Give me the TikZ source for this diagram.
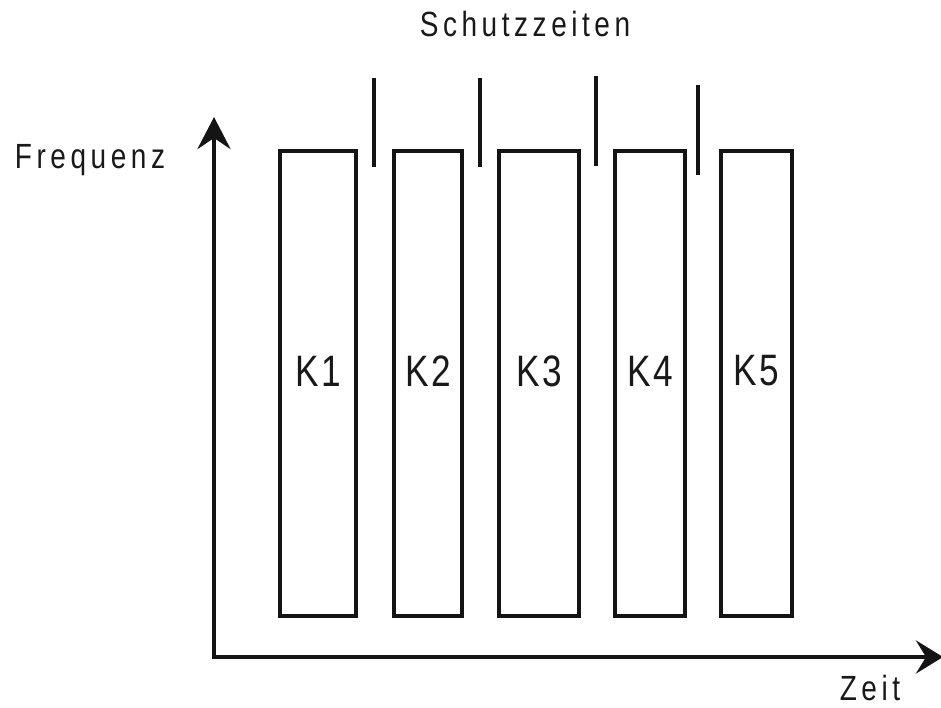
\documentclass[tikz,border=0pt]{standalone}
\usepackage{fontspec}
\usetikzlibrary{arrows.meta}
\newfontfamily\labfont[FakeStretch=0.8,LetterSpace=13]{Liberation Sans}
\newfontfamily\kfont[FakeStretch=0.8,LetterSpace=6]{Liberation Sans}
\begin{document}
\begin{tikzpicture}[x=1pt,y=-1pt,
  axisline/.style={line width=4.5pt,line join=miter,draw=black!92},
  kbox/.style={draw=black!92,line width=4pt,rectangle,inner sep=0pt,minimum height=465pt},
  klab/.style={font=\kfont\fontsize{44}{48}\selectfont,inner sep=0pt,text=black!90},
  axlab/.style={font=\labfont\fontsize{35}{40}\selectfont,inner sep=0pt,anchor=base,text=black!90},
  guard/.style={line width=4.5pt,draw=black!92}]
\fill[white] (0,0) rectangle (941,707);
\useasboundingbox (0,0) rectangle (941,707);
% axes
\coordinate (o) at (214,657);
\coordinate (ytip) at (214,117);
\coordinate (xtip) at (943,657);
\draw[axisline,{Stealth[length=32pt,width=33pt,inset=11pt]}-{Stealth[length=27pt,width=33pt,inset=10pt]}] (ytip) -- (o) -- (xtip);
% channel boxes
\node[kbox,minimum width=76pt] (k1) at (318,383) {};
\node[kbox,minimum width=68pt] (k2) at (428,383) {};
\node[kbox,minimum width=80pt] (k3) at (539,383) {};
\node[kbox,minimum width=70pt] (k4) at (650,383) {};
\node[kbox,minimum width=71pt] (k5) at (756.5,383) {};
\node[klab] (l1) at ([yshift=12pt]k1.center) {K1};
\node[klab] (l2) at ([yshift=12pt]k2.center) {K2};
\node[klab] (l3) at ([yshift=12pt]k3.center) {K3};
\node[klab] (l4) at ([yshift=12pt]k4.center) {K4};
\node[klab] (l5) at ([yshift=12pt]k5.center) {K5};
% guard time bars
\draw[guard] (374,78) -- (374,167);
\draw[guard] (480,78) -- (480,167);
\draw[guard] (596,76) -- (596,166);
\draw[guard] (698,85) -- (698,175);
% labels
\node[axlab] (sz) at (525,36.5) {Schutzzeiten};
\node[axlab] (fq) at (90,168) {Frequenz};
\node[axlab] (zt) at (870,700) {Zeit};
\end{tikzpicture}
\end{document}
